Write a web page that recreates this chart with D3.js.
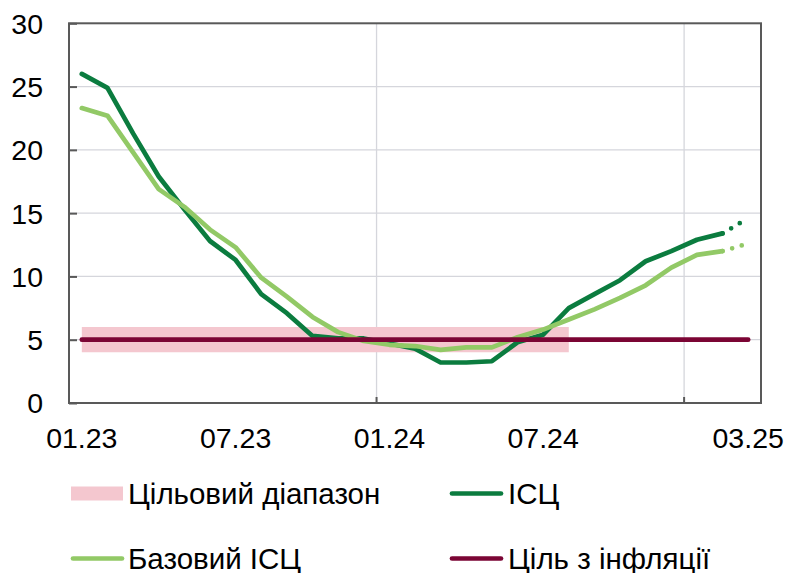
<!DOCTYPE html>
<html><head><meta charset="utf-8">
<script src="https://cdn.jsdelivr.net/npm/d3@7"></script>
<style>
html,body{margin:0;padding:0;background:#fff;}
svg{display:block;font-family:"Liberation Sans",Arial,sans-serif;}
</style></head>
<body><svg id="chart" width="787" height="573"></svg>
<script>
const months = ["01.23","02.23","03.23","04.23","05.23","06.23","07.23","08.23","09.23","10.23","11.23","12.23",
                "01.24","02.24","03.24","04.24","05.24","06.24","07.24","08.24","09.24","10.24","11.24","12.24",
                "01.25","02.25","03.25"];
const tickLabels = ["01.23","07.23","01.24","07.24","03.25"];
const gridBefore = ["01.24","01.25"];
const cpi  = [26.0,24.9,21.3,17.9,15.3,12.8,11.3,8.6,7.1,5.3,5.1,5.1,
              4.7,4.3,3.2,3.2,3.3,4.8,5.4,7.5,8.6,9.7,11.2,12.0,
              12.9,13.4,14.6];
const core = [23.3,22.7,19.8,16.9,15.5,13.7,12.3,9.9,8.4,6.8,5.6,4.9,
              4.6,4.5,4.2,4.4,4.4,5.2,5.8,6.6,7.4,8.3,9.3,10.7,
              11.7,12.0,12.6];
const estimateFrom = "02.25";           // last segment is an estimate (dotted)
const target = months.map(() => 5);
const rangeMonths = months.slice(0, 20); // 01.23 .. 08.24
const rangeLow = rangeMonths.map(() => 4);
const rangeHigh = rangeMonths.map(() => 6);
const yTicks = [0,5,10,15,20,25,30];
const legendItems = [
  {label:"Цільовий діапазон", type:"rect", color:"#f4c7cf", col:0, row:0},
  {label:"ІСЦ", type:"line", color:"#0b7c3f", col:1, row:0},
  {label:"Базовий ІСЦ", type:"line", color:"#92c966", col:0, row:1},
  {label:"Ціль з інфляції", type:"line", color:"#7b0534", col:1, row:1}
];

const svg = d3.select("#chart");
const L = 69, R = 761, T = 23.3, B = 403;
const x = d3.scaleBand().domain(months).range([L, R]).padding(0);
const cx = m => x(m) + x.bandwidth()/2;
const y = d3.scaleLinear().domain([0,30]).range([B, T]);

// gridlines
svg.append("g").selectAll("line").data(yTicks.filter(t => t>0 && t<30)).join("line")
  .attr("x1", L).attr("x2", R).attr("y1", d=>y(d)).attr("y2", d=>y(d))
  .attr("stroke", "#d5d6dc").attr("stroke-width", 1.3);
svg.append("g").selectAll("line").data(gridBefore).join("line")
  .attr("x1", d=>x(d)).attr("x2", d=>x(d)).attr("y1", T).attr("y2", B)
  .attr("stroke", "#d5d6dc").attr("stroke-width", 1.3);

// target range band
const area = d3.area().x((d,i)=>cx(rangeMonths[i])).y0((d,i)=>y(rangeLow[i])).y1((d,i)=>y(rangeHigh[i]));
svg.append("path").datum(rangeMonths).attr("d", area).attr("fill", "#f4c7cf");

// series lines
const estIdx = months.indexOf(estimateFrom);
function drawSeries(vals, color){
  const line = d3.line().x(d=>cx(d.m)).y(d=>y(d.v));
  const pts = months.map((m,i)=>({m, v: vals[i]}));
  svg.append("path").datum(pts.slice(0, estIdx+1)).attr("d", line)
    .attr("fill","none").attr("stroke", color).attr("stroke-width", 4.7)
    .attr("stroke-linejoin","round").attr("stroke-linecap","round");
  svg.append("path").datum(pts.slice(estIdx)).attr("d", line)
    .attr("fill","none").attr("stroke", color).attr("stroke-width", 4.7)
    .attr("stroke-linecap","round").attr("stroke-dasharray","0,10");
}
drawSeries(cpi, "#0b7c3f");
drawSeries(core, "#92c966");

// target line
svg.append("path").datum(months.map((m,i)=>({m, v: target[i]})))
  .attr("d", d3.line().x(d=>cx(d.m)).y(d=>y(d.v)))
  .attr("fill","none").attr("stroke","#7b0534").attr("stroke-width", 4.7)
  .attr("stroke-linecap","round");

// axes frame
svg.append("rect").attr("x", L).attr("y", T).attr("width", R-L).attr("height", B-T)
  .attr("fill","none").attr("stroke","#595959").attr("stroke-width", 2);

// y ticks (inside) and labels
const yAxis = d3.axisLeft(y).tickValues(yTicks).tickSizeInner(-8).tickSizeOuter(0).tickPadding(26);
const gy = svg.append("g").attr("transform", `translate(${L},0)`).call(yAxis);
gy.select(".domain").remove();
gy.selectAll(".tick line").attr("stroke","#595959").attr("stroke-width",2);
gy.selectAll(".tick text").attr("font-size", 28.5).attr("fill","#000")
  .attr("font-family","'Liberation Sans',Arial,sans-serif").attr("dy","0.35em");

// x ticks (inside) at year boundaries
svg.append("g").selectAll("line").data(gridBefore).join("line")
  .attr("x1", d=>x(d)).attr("x2", d=>x(d)).attr("y1", B).attr("y2", B-6)
  .attr("stroke","#595959").attr("stroke-width", 2);
// x labels
svg.append("g").selectAll("text").data(tickLabels).join("text")
  .attr("x", d=>cx(d)).attr("y", 448).attr("text-anchor","middle")
  .attr("font-size", 28.5).attr("fill","#000").text(d=>d);

// legend
const colX = [71, 450], rowY = [493.5, 558.5], textX = [128, 508];
const lg = svg.append("g");
legendItems.forEach(it => {
  const x0 = colX[it.col], yy = rowY[it.row];
  if (it.type === "rect") {
    lg.append("rect").attr("x", x0).attr("y", yy-7).attr("width", 52).attr("height", 14).attr("fill", it.color);
  } else {
    lg.append("line").attr("x1", x0+2).attr("x2", x0+51).attr("y1", yy).attr("y2", yy)
      .attr("stroke", it.color).attr("stroke-width", 4.7).attr("stroke-linecap","round");
  }
  lg.append("text").attr("x", textX[it.col]).attr("y", yy+10).attr("font-size", 29.5)
    .attr("fill","#000").text(it.label);
});
</script></body></html>
